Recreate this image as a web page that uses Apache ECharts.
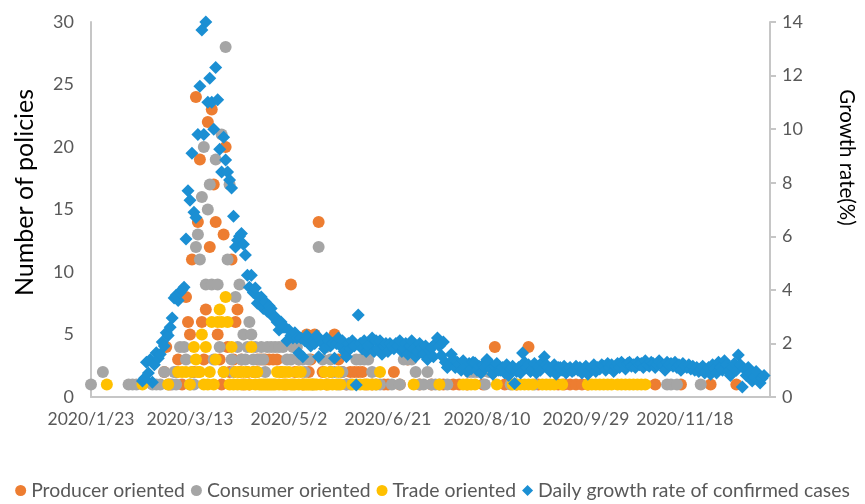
<!DOCTYPE html>
<html><head><meta charset="utf-8">
<script src="https://cdn.jsdelivr.net/npm/echarts@6/dist/echarts.min.js"></script>
<style>html,body{margin:0;padding:0;background:#fff}#c{width:865px;height:504px}</style>
</head><body><div id="c"></div>
<script>
// x values are day offsets from 2020/1/23
const xTickLabels = ['2020/1/23','2020/3/13','2020/5/2','2020/6/21','2020/8/10','2020/9/29','2020/11/18'];
const seriesNames = ['Producer oriented','Consumer oriented','Trade oriented','Daily growth rate of confirmed cases'];

const producer = [
[37,2],[38,4],[40,1],[43,2],[44,3],[46,1],[48,8],[49,6],[50,5],[51,11],[52,2],[53,24],[54,14],[55,19],[56,6],[57,3],[58,7],[59,22],[60,12],[61,23],[62,17],[63,14],[64,5],[65,3],[66,1],[67,13],[68,20],[69,4],[70,2],[71,11],[72,3],[73,6],[74,7],[75,2],[76,3],[77,1],[79,2],[80,1],[82,2],[84,3],[86,3],[88,3],[90,3],[92,3],[94,3],[96,2],[98,1],[101,9],[103,2],[105,3],[107,1],[109,5],[110,2],[111,3],[113,5],[115,14],[117,2],[119,1],[121,2],[123,5],[125,3],[127,2],[129,1],[131,2],[133,2],[135,2],[137,2],[139,1],[142,1],[148,1],[150,1],[153,2],[156,1],[160,3],[166,1],[172,1],[178,1],[183,1],[186,1],[190,1],[198,1],[204,4],[209,1],[215,1],[221,4],[226,1],[236,1],[239,1],[242,1],[245,1],[248,1],[251,1],[285,1],[298,1],[313,1],[326,1]
];
const consumer = [
[0,1],[6,2],[19,1],[21,1],[23,1],[31,1],[33,1],[35,1],[37,2],[39,1],[41,1],[42,2],[43,1],[45,4],[47,4],[48,3],[50,1],[51,2],[52,1],[53,12],[54,13],[55,11],[56,16],[57,20],[58,9],[59,15],[60,17],[61,9],[62,3],[63,19],[64,9],[65,4],[66,21],[67,2],[68,28],[69,11],[70,17],[71,3],[72,2],[73,8],[74,4],[75,9],[76,3],[77,5],[78,3],[79,4],[80,6],[81,5],[82,3],[83,4],[84,2],[85,3],[86,4],[87,3],[88,2],[89,4],[91,4],[93,4],[95,4],[97,4],[99,3],[101,3],[102,4],[104,4],[105,3],[107,3],[108,2],[110,3],[112,1],[115,12],[117,3],[119,4],[121,3],[123,2],[125,1],[127,2],[129,1],[131,1],[134,3],[136,3],[138,3],[140,3],[142,2],[144,1],[146,1],[152,1],[156,1],[158,3],[160,3],[162,3],[164,2],[166,1],[168,1],[170,2],[172,1],[174,1],[176,1],[180,1],[191,2],[193,2],[195,2],[197,2],[199,1],[201,2],[212,1],[224,1],[291,1],[293,1],[296,1],[308,1]
];
const trade = [
[8,1],[26,1],[39,1],[44,2],[46,2],[48,2],[50,1],[51,2],[52,4],[53,3],[54,2],[55,2],[56,5],[57,1],[58,4],[59,1],[60,2],[61,6],[62,1],[63,3],[64,6],[65,7],[66,6],[67,2],[68,8],[69,6],[70,1],[71,4],[72,1],[73,2],[74,1],[75,2],[76,1],[77,2],[78,1],[79,2],[80,1],[81,4],[82,2],[83,1],[84,2],[85,1],[86,1],[87,1],[88,1],[89,1],[90,1],[91,1],[92,1],[93,1],[94,2],[95,1],[96,2],[97,1],[98,2],[99,1],[100,2],[101,1],[102,1],[103,1],[104,2],[105,1],[106,2],[107,1],[108,1],[109,1],[110,1],[111,1],[112,1],[113,1],[114,1],[116,1],[118,2],[119,1],[120,1],[121,2],[122,1],[124,1],[125,2],[126,1],[132,1],[134,1],[136,1],[138,1],[140,1],[142,1],[144,1],[146,2],[163,1],[176,1],[188,1],[190,1],[192,1],[194,1],[205,1],[213,1],[215,1],[217,1],[219,1],[221,1],[223,1],[228,1],[230,1],[232,1],[234,1],[238,1],[251,1],[253,1],[255,1],[257,1],[259,1],[261,1],[263,1],[266,1],[268,1],[270,1],[272,1],[274,1],[276,1],[278,1],[280,1]
];
// daily growth rate (%), one value per day starting at day offset 26
const growthStartDay = 26;
const growthRate = [
0.6,0.7,1.3,0.9,1.4,0.55,1.2,1.65,1.45,1.6,2.05,1.9,2.4,2.3,2.6,2.95,3.7,3.8,3.6,3.9,4.0,4.1,
5.9,7.7,7.35,9.1,6.9,6.7,9.8,11.6,13.7,9.8,14.0,11.0,11.9,11.0,10.0,12.3,11.1,9.25,8.4,9.7,8.85,8.4,8.1,7.8,6.75,5.6,5.85,6.0,6.1,5.7,5.3,4.55,
4.1,4.55,3.9,4.07,3.5,3.7,3.73,3.3,3.55,3.2,3.4,3.3,3.0,3.0,2.8,2.5,2.8,2.6,2.6,2.1,2.5,2.3,2.2,2.4,2.2,1.64,2.2,1.5,2.1,2.3,2.2,1.9,2.1,2.0,2.3,1.5,2.1,2.0,1.8,2.2,2.1,1.9,2.0,1.45,2.0,2.2,1.9,2.1,1.7,1.5,2.0,1.8,2.1,1.9,0.45,3.06,2.0,1.8,2.1,1.7,1.9,2.0,2.2,1.7,2.1,1.8,2.1,1.6,1.9,2.0,1.7,2.0,1.9,1.8,2.0,
1.9,2.1,1.7,1.8,2.0,1.6,1.9,2.1,1.8,1.5,1.7,2.0,1.85,1.6,1.9,1.4,1.75,1.85,1.5,2.0,2.2,1.9,1.55,2.05,1.3,1.1,1.2,1.6,1.4,1.1,1.3,
1.2,1.0,1.35,1.1,0.95,1.25,1.05,1.3,1.27,1.0,1.15,0.9,1.2,1.1,1.4,1.3,1.05,0.85,1.15,1.25,1.0,1.0,1.1,0.9,1.2,0.8,1.05,1.15,0.5,0.95,
1.1,0.9,1.64,1.3,1.1,1.2,0.95,1.05,1.25,0.9,1.15,1.0,1.3,1.5,1.2,1.1,0.95,1.05,1.2,0.85,1.1,1.1,1.0,1.15,0.9,1.05,1.1,0.95,1.0,1.15,
1.0,1.1,0.9,1.05,1.15,0.85,1.0,1.1,1.2,0.95,1.1,1.05,1.2,1.15,1.0,1.25,1.1,1.2,0.95,1.15,1.25,1.1,1.3,1.2,1.05,1.25,1.3,1.15,1.2,1.1,
1.3,1.2,1.25,1.1,1.35,1.2,1.15,1.3,1.25,1.1,1.2,1.35,1.25,1.15,1.0,1.3,1.2,1.25,1.15,1.3,1.1,1.2,1.0,1.25,1.15,1.1,1.2,1.05,1.15,1.0,
1.1,0.95,1.05,1.15,0.9,1.0,1.1,0.85,1.2,1.05,0.9,1.3,1.1,1.0,1.35,1.2,0.95,0.8,1.1,1.25,1.0,1.57,1.2,0.37,1.05,0.8,1.1,0.9,0.6,0.75,0.95,0.65,0.52,0.7,0.8
];

const colors = ['#ED7D31','#A5A5A5','#FFC000','#1B8FD3'];
const FONT = 'Lato';
const axisGray = '#C6C6C6';
const labelGray = '#595959';

const chart = echarts.init(document.getElementById('c'), null, {renderer:'canvas'});
chart.setOption({
  animation:false,
  grid:{left:91, right:89, top:22, bottom:107, containLabel:false},
  legend:{
    top:481, left:'center', itemWidth:11, itemHeight:11, itemGap:6, padding:0,
    textStyle:{fontFamily:FONT, fontSize:19.4, color:labelGray},
    data:[
      {name:seriesNames[0], icon:'circle'},
      {name:seriesNames[1], icon:'circle'},
      {name:seriesNames[2], icon:'circle'},
      {name:seriesNames[3], icon:'diamond'}
    ]
  },
  xAxis:{
    type:'value', min:0, max:343, interval:50,
    axisLine:{show:true, lineStyle:{color:axisGray, width:2}},
    axisTick:{show:false}, splitLine:{show:false},
    axisLabel:{showMaxLabel:false, fontFamily:FONT, fontSize:17.5, color:labelGray, margin:13,
      formatter:function(v){ const i=Math.round(v/50); return (v%50===0 && xTickLabels[i]) ? xTickLabels[i] : ''; }}
  },
  yAxis:[
    {type:'value', min:0, max:30, interval:5, position:'left',
     name:'Number of policies', nameLocation:'middle', nameGap:54,
     nameTextStyle:{fontFamily:FONT, fontSize:25, color:'#000', padding:[0,0,0,34]},
     axisLine:{show:true, lineStyle:{color:axisGray, width:2}},
     axisTick:{show:false}, splitLine:{show:false},
     axisLabel:{fontFamily:FONT, fontSize:18, color:labelGray, margin:17}},
    {type:'value', min:0, max:14, interval:2, position:'right',
     name:'Growth rate(%)', nameLocation:'middle', nameGap:66, nameRotate:-90,
     nameTextStyle:{fontFamily:FONT, fontSize:20.5, color:'#000', padding:[0,104,0,0]},
     axisLine:{show:true, lineStyle:{color:axisGray, width:2}},
     axisTick:{show:true, inside:false, length:6, lineStyle:{color:axisGray, width:2}},
     splitLine:{show:false},
     axisLabel:{fontFamily:FONT, fontSize:18, color:labelGray, margin:12}}
  ],
  series:[
    {name:seriesNames[0], type:'scatter', yAxisIndex:0, symbol:'circle', symbolSize:12, itemStyle:{color:colors[0], opacity:1}, data:producer},
    {name:seriesNames[1], type:'scatter', yAxisIndex:0, symbol:'circle', symbolSize:12, itemStyle:{color:colors[1], opacity:1}, data:consumer},
    {name:seriesNames[2], type:'scatter', yAxisIndex:0, symbol:'circle', symbolSize:12, itemStyle:{color:colors[2], opacity:1}, data:trade},
    {name:seriesNames[3], type:'scatter', yAxisIndex:1, symbol:'diamond', symbolSize:13, itemStyle:{color:colors[3], opacity:1},
     data:growthRate.map(function(v,i){return [growthStartDay+i, v];})}
  ]
});
</script></body></html>
